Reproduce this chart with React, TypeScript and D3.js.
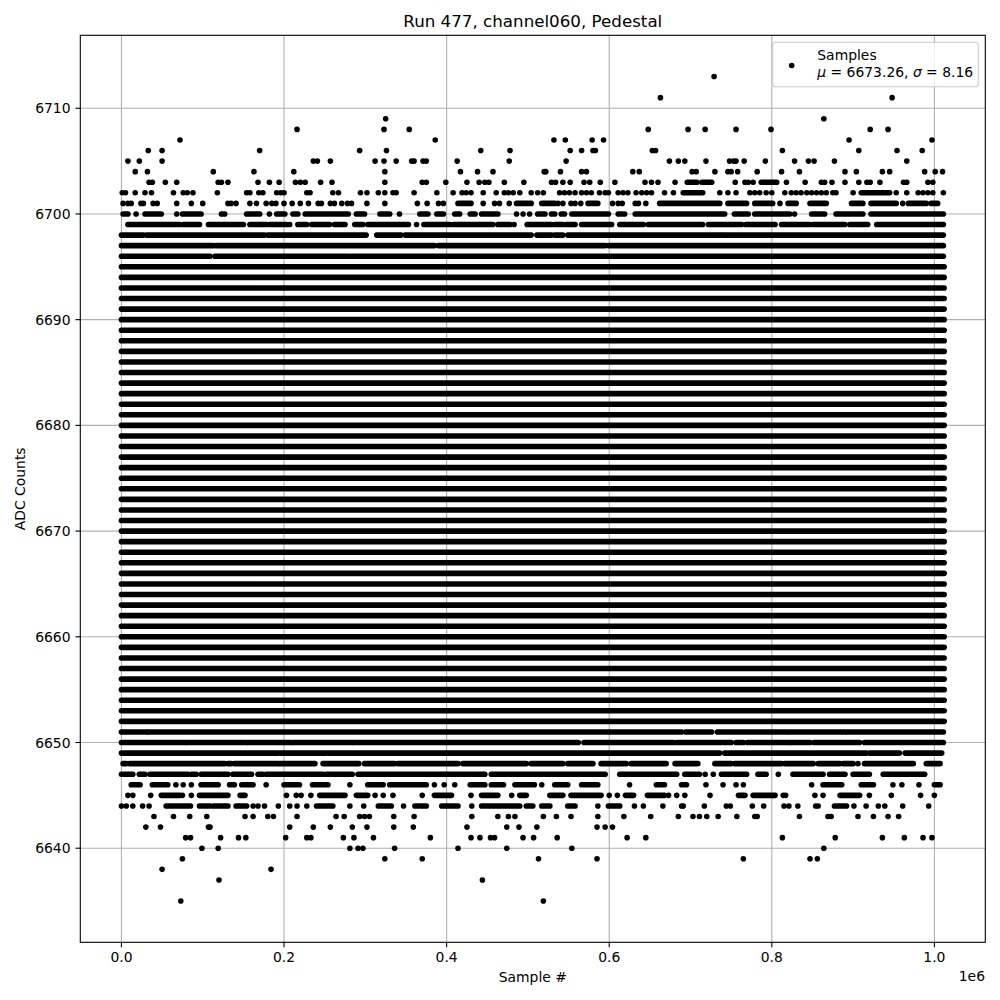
import React from "react";
import * as d3 from "d3";

type Run = number | [number, number];

// ---------- text ----------
const titleText = "Run 477, channel060, Pedestal";
const xLabelText = "Sample #";
const yLabelText = "ADC Counts";
const legendLabel = "Samples";
const meanADC = 6673.26;
const sigmaADC = 8.16;

// ---------- ticks ----------
const xTickValues = [0, 200000, 400000, 600000, 800000, 1000000];
const xTickLabels = ["0.0", "0.2", "0.4", "0.6", "0.8", "1.0"];
const xOffsetLabel = "1e6";
const yTickValues = [6640, 6650, 6660, 6670, 6680, 6690, 6700, 6710];

// ---------- data extent ----------
const sampleCount = 1012000; // samples (x)
const adcMin = 6635;
const adcMax = 6713;

// ADC levels that are occupied over the whole run (solid rows)
const solidLevels = d3.range(6652, 6696);

// Partially occupied ADC levels: single samples (thousands of samples) or runs [start, end]
const level6713: Run[] = [729];
const level6711: Run[] = [663, 948];
const level6709: Run[] = [325, 864];
const level6708: Run[] = [216, 323, 354, 648, 697, 718, 756, 799, 921, 943];
const level6707: Run[] = [72, 386, 532, 546, 579, 593, 895, 997];
const level6706: Run[] = [33, 50, 170, 293, 326, 442, 478, 552, 566, 580, 583, 653, 657, 813, 907, 954, 985];
const level6705: Run[] = [8, 22, 50, 236, 241, 257, 312, 323, 338, 357, 360, 371, 375, 413, 477, 547, 674, 685, 693, 719, 748, 753, 756, 766, 792, 828, 845, 852, 877, 966];
const level6704: Run[] = [17, 32, 113, 163, 212, 324, 417, 438, 457, 520, 522, 540, 566, 572, 629, 637, 702, 707, 730, 746, 750, 758, 782, 812, 834, 890, 904, 936, 945, 988, 1001, 1010];
const level6703: Run[] = [34, 38, 54, 68, 119, 123, 131, 168, 182, 194, 214, 220, 226, 245, 259, 324, 370, 375, 399, 425, 440, 447, 452, 471, 495, 529, 534, 543, 552, 569, 576, 589, 607, 644, 652, 660, 681, [696, 708], [714, 726], 755, 767, 771, 777, [787, 806], 818, 841, 861, 865, 874, 890, 907, 917, 921, 933, 962, 966, 992, 998];
const level6702: Run[] = [1, 5, 17, 29, 37, 64, 76, 81, 88, 118, 154, 158, 169, 174, 191, 196, 200, 228, 232, 260, 267, 294, 302, 316, 324, 334, 338, 360, 388, 408, 419, 424, 430, 445, 461, 471, 476, 482, 490, 504, 512, 519, 539, 545, 551, 558, 566, 572, 578, 588, 595, 599, 611, 617, 623, 633, 640, 646, 652, 668, 679, [691, 715], 736, 746, 756, 773, 779, 785, 793, 800, 816, 824, 830, 836, 843, 849, 855, 861, 867, 875, 879, 900, [910, 945], 953, 966, 980, 986, 992, 998, 1011];
const level6701: Run[] = [2, 8, 12, 24, 27, 39, 44, 68, 86, 100, 131, 135, 141, 158, 166, 178, 185, 190, 200, 210, 220, 230, 242, 246, 257, 262, 271, 278, 283, 302, 324, 364, 376, 390, 396, [414, 430], 445, 459, 465, 477, [486, 504], [517, 533], 537, 543, 553, 558, 565, [574, 586], 604, 611, 616, 632, 636, 645, [662, 736], [746, 769], [779, 801], 810, [820, 830], [847, 867], [898, 912], [922, 953], 961, [968, 990], [996, 1004]];
const level6700: Run[] = [[2, 8], 18, [29, 49], 68, [75, 98], [123, 127], [154, 170], 182, [191, 201], [211, 217], [226, 279], [289, 299], [318, 330], 342, [367, 377], [388, 396], [410, 416], [429, 435], [443, 463], 486, 494, 502, [512, 521], [529, 533], [541, 545], [554, 599], [611, 619], [632, 742], [754, 771], [779, 822], 828, [849, 865], [879, 912], [922, 1011]];
const level6699: Run[] = [[8, 72], [76, 96], [107, 150], [158, 178], [182, 203], 207, [217, 228], [234, 256], [262, 275], [287, 297], [303, 353], 363, [372, 404], [408, 457], [463, 478], 483, [499, 529], [533, 543], [547, 558], [566, 603], [613, 642], [648, 715], [722, 763], [768, 804], [812, 847], [851, 890], [896, 918], [929, 1011]];
const level6698: Run[] = [[0, 27], [31, 176], [180, 301], [314, 344], [349, 504], [511, 529], [533, 543], [549, 736], [738, 1011]];
const level6697: Run[] = [[0, 113], [116, 385], [390, 595], [599, 1011]];
const level6696: Run[] = [[0, 109], [115, 279], [282, 1011]];

const level6651: Run[] = [[0, 31], [33, 689], [694, 726], [733, 818], [821, 890], [893, 1011]];
const level6650: Run[] = [[0, 79], [81, 154], [156, 209], [211, 283], [285, 562], [569, 679], [683, 750], [756, 765], [770, 822], [824, 847], [852, 908], [914, 1011]];
const level6649: Run[] = [[0, 193], [196, 252], [255, 681], [683, 736], [742, 916], [920, 957], [964, 1009]];
const level6648: Run[] = [[2, 6], [10, 127], [131, 135], [139, 193], [195, 238], [248, 292], [299, 336], [340, 414], [420, 498], [504, 543], [549, 580], [590, 621], [627, 670], [681, 709], [730, 750], [754, 812], [816, 851], [857, 884], [888, 900], 906, [914, 974], [990, 1007]];
const level6647: Run[] = [[0, 14], [22, 29], [35, 82], [86, 92], [98, 131], [137, 160], [168, 174], [178, 248], [252, 284], [291, 447], [455, 595], [613, 683], [693, 711], 718, 728, [738, 769], [783, 793], 808, [826, 863], [871, 890], [900, 920], [937, 988]];
const level6646: Run[] = [[12, 23], [38, 57], 67, 76, 86, [98, 119], [133, 139], [148, 162], 178, [200, 219], [235, 254], 281, [303, 322], [330, 375], 385, 397, 410, [429, 447], [455, 470], [484, 508], 517, [533, 549], [566, 586], 625, [658, 668], [689, 695], 719, 740, 756, 765, 849, [863, 886], [910, 925], 949, 960, 981, [1000, 1007]];
const level6645: Run[] = [8, 14, 36, [49, 72], 75, 86, [96, 131], [146, 152], 203, 215, 221, 233, [244, 275], [289, 303], 312, 322, 334, 370, [385, 406], 430, [443, 463], 480, [490, 498], [527, 543], [553, 590], 600, 610, [620, 630], [647, 668], 673, 683, 693, 724, [759, 767], [777, 804], 814, 817, 853, 863, [884, 908], 920, 947, 983, 1000];
const level6644: Run[] = [0, 6, 14, 26, 34, [55, 85], [96, 109], [113, 131], [141, 154], 162, 168, 176, 193, 207, 216, 228, [240, 260], 281, 298, [316, 332], 347, [361, 375], [394, 414], 431, [443, 490], [498, 506], [517, 527], [549, 558], 586, [599, 613], 631, 642, 666, 689, 691, 717, 744, 749, 776, 790, 815, 821, 832, 854, 857, [877, 892], 901, 916, 931, 939, 961, 993];
const level6643: Run[] = [40, 64, 84, 105, 152, 162, 180, 187, 216, 264, 274, 293, 299, 305, 335, 360, 431, 463, 476, 484, 519, 535, 553, 586, 618, 651, 685, 703, 711, 720, 734, 757, 779, 782, 834, 869, 873, 906, 925, 943, 956];
const level6642: Run[] = [30, 48, 107, 109, 207, 236, 257, 284, 302, 335, 359, 425, 474, 489, 511, 585, 595, 604];
const level6641: Run[] = [79, 85, 122, 144, 153, 202, 228, 233, 273, 286, 310, 380, 430, 441, 454, 459, 494, 507, 536, 622, 645, 813, 878, 936, 963, 986, 997];
const level6640: Run[] = [99, 119, 281, 291, 297, 336, 414, 474, 554, 864];
const level6639: Run[] = [75, 324, 370, 513, 585, 765, 847, 856];
const level6638: Run[] = [50, 184];
const level6637: Run[] = [120, 444];
const level6635: Run[] = [73, 519];

const partialLevels: [number, Run[]][] = [
  [6713, level6713], [6711, level6711], [6709, level6709], [6708, level6708],
  [6707, level6707], [6706, level6706], [6705, level6705], [6704, level6704],
  [6703, level6703], [6702, level6702], [6701, level6701], [6700, level6700],
  [6699, level6699], [6698, level6698], [6697, level6697], [6696, level6696],
  [6651, level6651], [6650, level6650], [6649, level6649], [6648, level6648],
  [6647, level6647], [6646, level6646], [6645, level6645], [6644, level6644],
  [6643, level6643], [6642, level6642], [6641, level6641], [6640, level6640],
  [6639, level6639], [6638, level6638], [6637, level6637], [6635, level6635],
];

// ---------- layout ----------
const W = 1000;
const H = 1000;
const plotLeft = 80.3;
const plotRight = 985.3;
const plotTop = 35.3;
const plotBottom = 942.3;
const font = "'DejaVu Sans', Verdana, sans-serif";
const dotR = 2.8;

export default function App() {
  const xPad = 0.05 * sampleCount;
  const x = d3.scaleLinear().domain([-xPad, sampleCount + xPad]).range([plotLeft, plotRight]);
  const yPad = 0.05 * (adcMax - adcMin);
  const y = d3.scaleLinear().domain([adcMin - yPad, adcMax + yPad]).range([plotBottom, plotTop]);

  const renderRun = (level: number, r: Run, key: string) => {
    if (typeof r === "number") {
      return <circle key={key} cx={x(r * 1000)} cy={y(level)} r={dotR} fill="#000" />;
    }
    return (
      <line
        key={key}
        x1={x(r[0] * 1000)}
        x2={x(r[1] * 1000)}
        y1={y(level)}
        y2={y(level)}
        stroke="#000"
        strokeWidth={dotR * 2}
        strokeLinecap="round"
      />
    );
  };

  const midX = (plotLeft + plotRight) / 2;
  const midY = (plotTop + plotBottom) / 2;

  return (
    <svg
      width={W}
      height={H}
      viewBox={`0 0 ${W} ${H}`}
      style={{ position: "absolute", left: 0, top: 0, background: "#fff" }}
      fontFamily={font}
    >
      <rect x={0} y={0} width={W} height={H} fill="#fff" />
      <defs>
        <clipPath id="plotClip">
          <rect x={plotLeft} y={plotTop} width={plotRight - plotLeft} height={plotBottom - plotTop} />
        </clipPath>
      </defs>

      {/* grid */}
      <g stroke="#b0b0b0" strokeWidth={1.1}>
        {xTickValues.map((t) => (
          <line key={"gx" + t} x1={x(t)} x2={x(t)} y1={plotTop} y2={plotBottom} />
        ))}
        {yTickValues.map((t) => (
          <line key={"gy" + t} x1={plotLeft} x2={plotRight} y1={y(t)} y2={y(t)} />
        ))}
      </g>

      {/* data */}
      <g clipPath="url(#plotClip)">
        {solidLevels.map((lv) => renderRun(lv, [0, sampleCount / 1000], "s" + lv))}
        {partialLevels.map(([lv, runs]) => (
          <g key={"p" + lv}>{runs.map((r, i) => renderRun(lv, r, lv + "-" + i))}</g>
        ))}
      </g>

      {/* spines */}
      <rect
        x={plotLeft}
        y={plotTop}
        width={plotRight - plotLeft}
        height={plotBottom - plotTop}
        fill="none"
        stroke="#000"
        strokeWidth={1.1}
      />

      {/* x ticks */}
      <g fontSize={13.9} fill="#000">
        {xTickValues.map((t, i) => (
          <g key={"xt" + t}>
            <line x1={x(t)} x2={x(t)} y1={plotBottom} y2={plotBottom + 4.9} stroke="#000" strokeWidth={1.1} />
            <text x={x(t)} y={962.3} textAnchor="middle">
              {xTickLabels[i]}
            </text>
          </g>
        ))}
        <text x={985} y={981} textAnchor="end">
          {xOffsetLabel}
        </text>
      </g>

      {/* y ticks */}
      <g fontSize={13.9} fill="#000">
        {yTickValues.map((t) => (
          <g key={"yt" + t}>
            <line x1={plotLeft - 4.9} x2={plotLeft} y1={y(t)} y2={y(t)} stroke="#000" strokeWidth={1.1} />
            <text x={plotLeft - 9.8} y={y(t)} dy="0.36em" textAnchor="end">
              {t}
            </text>
          </g>
        ))}
      </g>

      {/* labels */}
      <text x={midX} y={982} textAnchor="middle" fontSize={13.9}>
        {xLabelText}
      </text>
      <text
        transform={`translate(25,${midY}) rotate(-90)`}
        textAnchor="middle"
        fontSize={13.9}
      >
        {yLabelText}
      </text>
      <text x={midX} y={26.7} textAnchor="middle" fontSize={16.7}>
        {titleText}
      </text>

      {/* legend */}
      <g>
        <rect
          x={772.7}
          y={42.3}
          width={205.6}
          height={44.4}
          rx={2.8}
          fill="#fff"
          fillOpacity={0.8}
          stroke="#cccccc"
          strokeWidth={1.1}
        />
        <circle cx={791.7} cy={65.5} r={dotR} fill="#000" />
        <text x={817.3} y={60} fontSize={13.9}>
          {legendLabel}
        </text>
        <text x={817.3} y={76.5} fontSize={13.9}>
          <tspan fontStyle="italic">μ</tspan>
          {` = ${meanADC.toFixed(2)}, `}
          <tspan fontStyle="italic">σ</tspan>
          {` = ${sigmaADC.toFixed(2)}`}
        </text>
      </g>
    </svg>
  );
}
